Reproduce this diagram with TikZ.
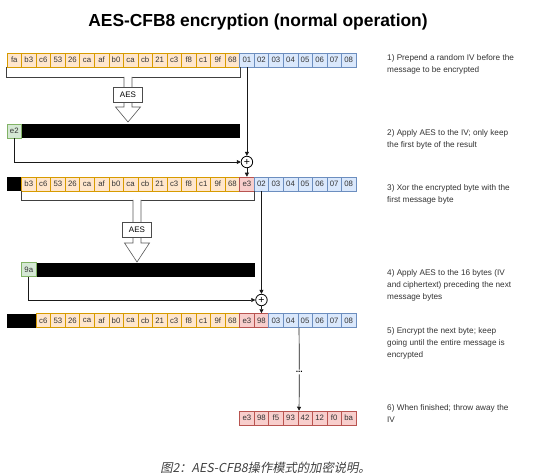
\documentclass[tikz,border=0pt]{standalone}
\usepackage{fontspec}
\setmainfont{Liberation Sans}
\newfontfamily\cjkfont[FakeSlant=0.2]{Noto Sans CJK SC}
\usetikzlibrary{arrows.meta}

\definecolor{ivfill}{HTML}{FFE6CC}
\definecolor{ivdraw}{HTML}{D79B00}
\definecolor{msgfill}{HTML}{DAE8FC}
\definecolor{msgdraw}{HTML}{6C8EBF}
\definecolor{encfill}{HTML}{F8CECC}
\definecolor{encdraw}{HTML}{B85450}
\definecolor{keyfill}{HTML}{D5E8D4}
\definecolor{keydraw}{HTML}{82B366}

\tikzset{
  cell/.style={draw, minimum width=14.54bp, minimum height=14bp, inner sep=0pt,
    line width=0.5bp, text=black!80, font=\fontsize{7.8bp}{8bp}\selectfont},
  ivcell/.style={cell, fill=ivfill, draw=ivdraw},
  msgcell/.style={cell, fill=msgfill, draw=msgdraw},
  enccell/.style={cell, fill=encfill, draw=encdraw},
  keycell/.style={cell, fill=keyfill, draw=keydraw},
  blkcell/.style={fill=black, minimum width=14.54bp, minimum height=14bp, inner sep=0pt},
  aesbox/.style={draw=black!70, fill=white, line width=0.6bp, minimum width=29bp,
    minimum height=15bp, inner sep=0pt, font=\fontsize{8bp}{9bp}\selectfont},
  xorc/.style={circle, draw, line width=0.8bp, minimum size=11.5bp, inner sep=0pt,
    font=\fontsize{10.5bp}{10bp}\selectfont},
  conn/.style={draw=black!90, line width=0.7bp},
  brk/.style={draw=black!75, line width=0.7bp},
  blockarr/.style={draw=black!65, fill=white, line width=0.6bp},
  steptext/.style={anchor=north west, align=left, inner sep=0pt,
    text=black!80, font=\fontsize{8.2bp}{11.8bp}\selectfont}
}

\begin{document}
\begin{tikzpicture}[x=1bp, y=-1bp, >={Triangle[length=4bp,width=4bp]}]
  \useasboundingbox (0,0) rectangle (549,476);

  \node[anchor=base, font=\bfseries\fontsize{17.4bp}{20bp}\selectfont] (title) at (258,27)
    {AES-CFB8 encryption (normal operation)};

  % row 1: IV and message
  \foreach \t [count=\i from 0] in {fa,b3,c6,53,26,ca,af,b0,ca,cb,21,c3,f8,c1,9f,68}
    \node[ivcell] (a\i) at ({7+(\i+0.5)*14.54},60) {\t};
  \foreach \t [count=\i from 16] in {01,02,03,04,05,06,07,08}
    \node[msgcell] (a\i) at ({7+(\i+0.5)*14.54},60) {\t};

  % row 2: AES of the IV
  \node[keycell] (b0) at ({7+0.5*14.54},131) {e2};
  \node[blkcell, anchor=west, minimum width=218.1bp] (bbar) at (b0.east) {};

  % row 3: first byte encrypted
  \node[blkcell] (c0) at ({7+0.5*14.54},184) {};
  \foreach \t [count=\i from 1] in {b3,c6,53,26,ca,af,b0,ca,cb,21,c3,f8,c1,9f,68}
    \node[ivcell] (c\i) at ({7+(\i+0.5)*14.54},184) {\t};
  \node[enccell] (c16) at ({7+16.5*14.54},184) {e3};
  \foreach \t [count=\i from 17] in {02,03,04,05,06,07,08}
    \node[msgcell] (c\i) at ({7+(\i+0.5)*14.54},184) {\t};

  % row 4: AES of the next 16 bytes
  \node[keycell] (d1) at ({7+1.5*14.54},269.5) {9a};
  \node[blkcell, anchor=west, minimum width=218.1bp] (dbar) at (d1.east) {};

  % row 5: second byte encrypted
  \node[blkcell, anchor=west, minimum width=29.08bp] (e0) at (7,320.5) {};
  \foreach \t [count=\i from 2] in {c6,53,26,ca,af,b0,ca,cb,21,c3,f8,c1,9f,68}
    \node[ivcell] (e\i) at ({7+(\i+0.5)*14.54},320.5) {\t};
  \node[enccell] (e16) at ({7+16.5*14.54},320.5) {e3};
  \node[enccell] (e17) at ({7+17.5*14.54},320.5) {98};
  \foreach \t [count=\i from 18] in {03,04,05,06,07,08}
    \node[msgcell] (e\i) at ({7+(\i+0.5)*14.54},320.5) {\t};

  % row 6: ciphertext
  \foreach \t [count=\i from 16] in {e3,98,f5,93,42,12,f0,ba}
    \node[enccell] (f\i) at ({7+(\i+0.5)*14.54},418) {\t};

  % AES block arrows
  \draw[brk] (a0.south west) -- ++(0,10) -| (a15.south east);
  \draw[blockarr] (124,77) -- (124,107) -- (115.5,107) -- (128,122)
    -- (140.5,107) -- (132,107) -- (132,77);
  \node[aesbox] (aes1) at (128,94.5) {AES};

  \draw[brk] (c1.south west) -- ++(0,9) -| (c16.south east);
  \draw[blockarr] (133,200) -- (133,243) -- (124.5,243) -- (137,262)
    -- (149.5,243) -- (141,243) -- (141,200);
  \node[aesbox] (aes2) at (137,229.5) {AES};

  % xor steps
  \node[xorc] (xor1) at (a16 |- 0,162) {+};
  \draw[conn, ->] (a16.south) -- (xor1.north);
  \draw[conn, ->] (b0.south) |- (xor1.west);
  \draw[conn, ->] (xor1.south) -- (c16.north);

  \node[xorc] (xor2) at (c17 |- 0,300) {+};
  \draw[conn, ->] (c17.south) -- (xor2.north);
  \draw[conn, ->] (d1.south) |- (xor2.west);
  \draw[conn, ->] (xor2.south) -- (e17.north);

  \node[inner sep=1.5bp, font=\bfseries\fontsize{8.5bp}{8bp}\selectfont] (dots) at ({7+20*14.54+1.5},372) {...};
  \draw[conn] ([xshift=1.5bp]e20.south west) -- (dots.north);
  \draw[conn, ->] (dots.south) -- ([xshift=1.5bp]f20.north west);

  % explanations
  \node[steptext] (s1) at (387,54.3) {1) Prepend a random IV before the\\message to be encrypted};
  \node[steptext] (s2) at (387,129.3) {2) Apply AES to the IV; only keep\\the first byte of the result};
  \node[steptext] (s3) at (387,184.3) {3) Xor the encrypted byte with the\\first message byte};
  \node[steptext] (s4) at (387,269.3) {4) Apply AES to the 16 bytes (IV\\and ciphertext) preceding the next\\message bytes};
  \node[steptext] (s5) at (387,327.3) {5) Encrypt the next byte; keep\\going until the entire message is\\encrypted};
  \node[steptext] (s6) at (387,404.3) {6) When finished; throw away the\\IV};

  \node[anchor=base, text=black!75, font=\cjkfont\fontsize{12.3bp}{13bp}\selectfont] (caption)
    at (265.5,472) {图2：AES-CFB8操作模式的加密说明。};
\end{tikzpicture}
\end{document}
